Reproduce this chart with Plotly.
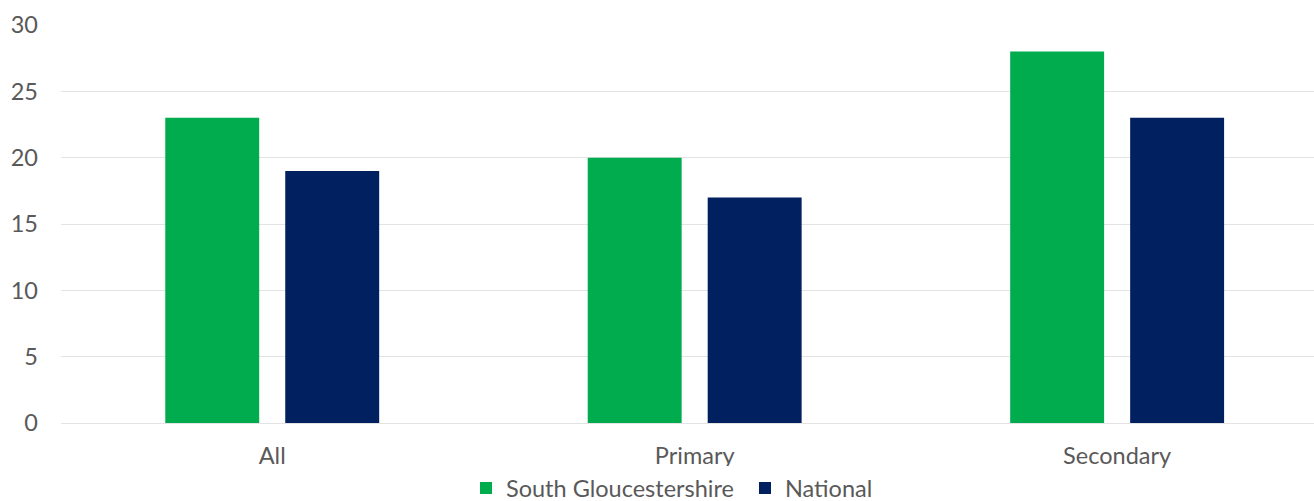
import plotly.graph_objects as go

categories = ["All", "Primary", "Secondary"]
south_glos = [23, 20, 28]
national = [19, 17, 23]

GREEN = "#00ac4e"
NAVY = "#00205f"
FONT = "Lato, 'Open Sans', sans-serif"
TXT = "#595959"
SIZE = 23.5

fig = go.Figure()
fig.add_trace(go.Bar(name="South Gloucestershire", x=categories, y=south_glos,
                     marker=dict(color=GREEN, line=dict(width=0))))
fig.add_trace(go.Bar(name="National", x=categories, y=national,
                     marker=dict(color=NAVY, line=dict(width=0))))

fig.update_layout(
    width=1314, height=501,
    margin=dict(l=61, r=0, t=25, b=78, autoexpand=False),
    paper_bgcolor="white", plot_bgcolor="white",
    barmode="group", bargap=0.432, bargroupgap=0.217,
    font=dict(family=FONT, size=SIZE, color=TXT),
    showlegend=True,
    legend=dict(orientation="h", x=(466 - 61) / 1253, xanchor="left", y=-0.164,
                yanchor="middle", entrywidth=234, entrywidthmode="pixels",
                font=dict(size=SIZE, color=TXT), itemwidth=30, itemclick=False),
)
fig.update_xaxes(range=[-0.5, 2.466], showgrid=False, showline=False, zeroline=False,
                 ticks="", ticklabelstandoff=16, tickfont=dict(size=SIZE, color=TXT))
fig.update_yaxes(range=[0, 30], dtick=5, showgrid=True, gridcolor="#e3e3e3", gridwidth=1,
                 zeroline=True, zerolinecolor="#e3e3e3", zerolinewidth=1,
                 showline=False, ticks="", ticklabelstandoff=22,
                 tickfont=dict(size=SIZE, color=TXT))

fig.write_html("out.html")
